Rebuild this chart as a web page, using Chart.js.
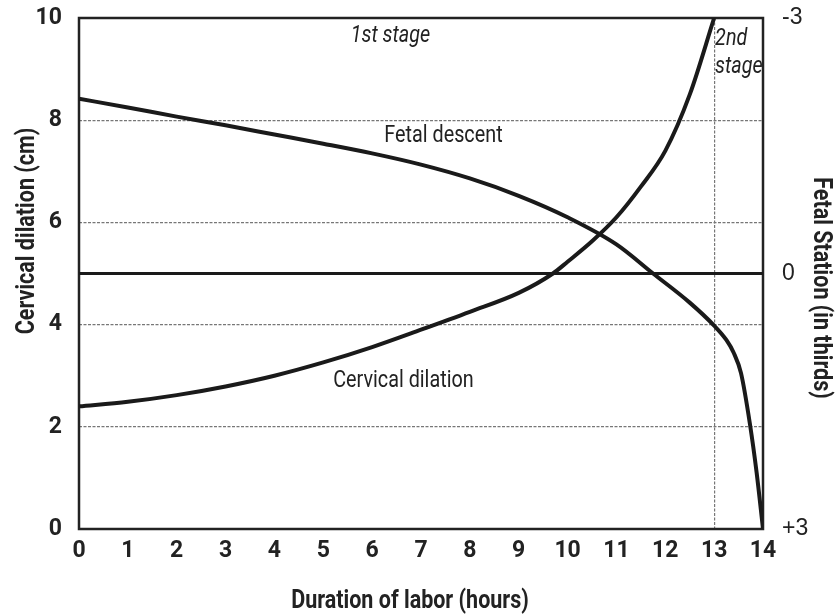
<!DOCTYPE html>
<html><head><meta charset="utf-8">
<script src="https://cdn.jsdelivr.net/npm/chart.js@4"></script>
<style>html,body{margin:0;padding:0;background:#fff}</style>
</head><body>
<canvas id="c" width="835" height="615"></canvas>
<script>
// ---- data ----
const cervHours  = [0,1,2,3,4,5,6,7,8,9,9.7,10,10.5,11,11.5,12,12.5,13];
const cervValues = [2.4,2.49,2.62,2.79,3.0,3.26,3.56,3.9,4.25,4.62,5.0,5.23,5.63,6.1,6.7,7.4,8.5,10];
const fetalHours  = [0,1,2,3,4,5,6,7,8,9,10,11,11.75,12.5,13,13.25,13.4,13.55,13.73,13.87,14];
const fetalValues = [8.42,8.25,8.07,7.9,7.72,7.54,7.35,7.13,6.86,6.52,6.1,5.57,5.0,4.43,3.98,3.7,3.45,3.05,2.07,1.1,0];
const stationZeroHours = [0,14];
const stationZeroValues = [5,5];
const dilationGridValues = [2,4,6,8];
const stageBoundaryHours = [13];
const stationValues = [-3,0,3];
const stationLabels = ['-3','0','+3'];
const noteTexts  = ['1st stage','2nd','stage','Fetal descent','Cervical dilation'];
const noteX      = [6.375,13.02,13.02,7.46,6.64];
const noteY      = [9.54,9.47,8.92,7.58,2.78];
const xTitle = 'Duration of labor (hours)';
const yTitle = 'Cervical dilation (cm)';
const y2Title = 'Fetal Station (in thirds)';

const FONT = "Roboto,'Liberation Sans',sans-serif";
const REG = "'Liberation Sans',Arial,sans-serif";
const INK = '#222';
const noteAlign  = ['center','left','left','center','center'];
const noteStyle  = ['italic','italic','italic','normal','normal'];
const COND = 0.86; // horizontal condensing for free text

const toPts = (xs, ys) => xs.map((x,i)=>({x, y: ys[i]}));

function drawText(ctx, text, x, y, font, align, rot) {
  ctx.save();
  ctx.translate(x, y);
  if (rot) ctx.rotate(rot);
  ctx.scale(COND, 1);
  ctx.font = font;
  ctx.textAlign = align;
  ctx.textBaseline = 'alphabetic';
  ctx.fillStyle = INK;
  ctx.fillText(text, 0, 0);
  ctx.restore();
}

const plugin = {
  id: 'frameNotes',
  beforeDatasetsDraw(chart){
    const {ctx, chartArea:a} = chart;
    ctx.save();
    ctx.strokeStyle = INK; ctx.lineWidth = 2.5;
    ctx.strokeRect(a.left, a.top, a.right-a.left, a.bottom-a.top);
    ctx.restore();
  },
  afterDatasetsDraw(chart){
    const {ctx, chartArea:a} = chart; const xs = chart.scales.x, ys = chart.scales.y;
    noteTexts.forEach((t,i)=>{
      const px = xs.getPixelForValue(noteX[i]);
      drawText(ctx, t, px, ys.getPixelForValue(noteY[i]), noteStyle[i] + ' 400 23px ' + FONT, noteAlign[i], 0);
    });
    const tf = 'normal 700 25px ' + FONT;
    drawText(ctx, xTitle, a.left + 331, 607.5, tf, 'center', 0);
    drawText(ctx, yTitle, 33.5, a.top + 213, tf, 'center', -Math.PI/2);
    drawText(ctx, y2Title, 813.5, a.top + 270, tf, 'center', Math.PI/2);
  }
};

new Chart(document.getElementById('c'), {
  type: 'line',
  data: {
    datasets: [
      { label:'Cervical dilation', data: toPts(cervHours, cervValues), borderColor:'#1a1a1a', borderWidth:4, pointRadius:0, cubicInterpolationMode:'monotone', fill:false },
      { label:'Fetal descent', data: toPts(fetalHours, fetalValues), borderColor:'#1a1a1a', borderWidth:4, pointRadius:0, cubicInterpolationMode:'monotone', fill:false },
      { label:'Station 0', data: toPts(stationZeroHours, stationZeroValues), borderColor:'#1a1a1a', borderWidth:3, pointRadius:0, fill:false }
    ]
  },
  options: {
    responsive:false, animation:false, devicePixelRatio:1,
    layout:{ padding:{ top:18, left:0, right:0, bottom:0 } },
    plugins:{ legend:{display:false}, tooltip:{enabled:false} },
    scales:{
      x:{
        type:'linear', min:0, max:14,
        ticks:{ stepSize:1, color:INK, padding:8, font:{family:FONT, size:23, weight:'bold'} },
        grid:{ drawTicks:false, lineWidth:1.2, color:(c)=> stageBoundaryHours.includes(c.tick && c.tick.value) ? '#777' : 'rgba(0,0,0,0)' },
        border:{ display:false, dash:[3,1.5] },
        title:{ display:false, text:xTitle },
        afterFit(s){ s.height = 86; s.paddingLeft = 0; s.paddingRight = 0; }
      },
      y:{
        type:'linear', position:'left', min:0, max:10,
        ticks:{ stepSize:2, color:INK, padding:17, font:{family:FONT, size:23, weight:'bold'} },
        grid:{ drawTicks:false, lineWidth:1.2, color:(c)=> dilationGridValues.includes(c.tick && c.tick.value) ? '#777' : 'rgba(0,0,0,0)' },
        border:{ display:false, dash:[3,1.5] },
        title:{ display:false, text:yTitle },
        afterFit(s){ s.width = 79; s.paddingTop = 0; s.paddingBottom = 0; }
      },
      y2:{
        type:'linear', position:'right', min:-3, max:3, reverse:true,
        afterBuildTicks(s){ s.ticks = stationValues.map(v=>({value:v})); },
        ticks:{ color:INK, padding:19, font:{family:REG, size:23}, callback:(v)=> stationLabels[stationValues.indexOf(v)] },
        grid:{ drawOnChartArea:false, drawTicks:false },
        border:{ display:false },
        title:{ display:false, text:y2Title },
        afterFit(s){ s.width = 72; s.paddingTop = 0; s.paddingBottom = 0; }
      }
    }
  },
  plugins:[plugin]
});
</script>
</body></html>
